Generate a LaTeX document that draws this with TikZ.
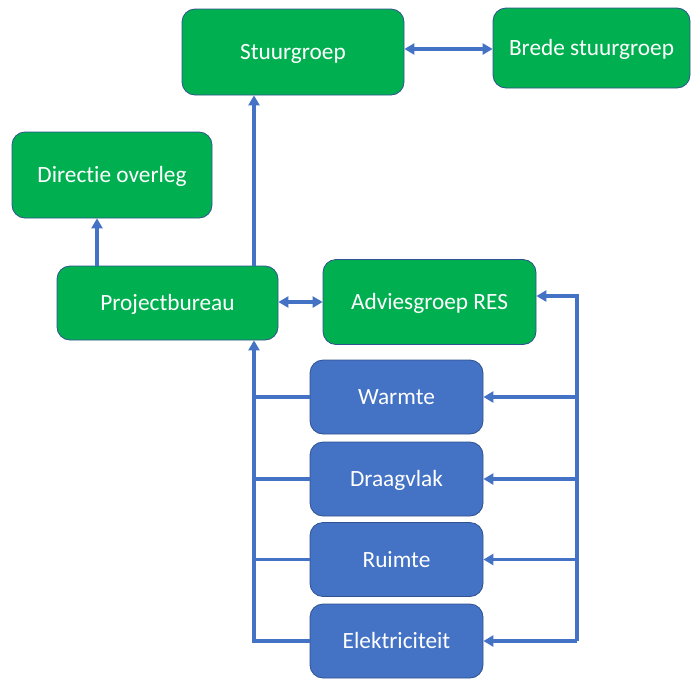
\documentclass[tikz,border=0pt]{standalone}
\usepackage{fontspec}
\setmainfont{Carlito}[Ligatures=NoCommon]
\usetikzlibrary{arrows.meta}
\definecolor{boxgreen}{HTML}{00B050}
\definecolor{boxblue}{HTML}{4472C4}
\definecolor{edgeblue}{HTML}{2F528F}
\definecolor{linkblue}{HTML}{4472C4}
\begin{document}
\begin{tikzpicture}[x=1pt,y=-1pt,
  base/.style={rectangle,rounded corners=13pt,draw=edgeblue,line width=0.8pt,text=white,
    font=\fontsize{23.3}{28}\selectfont,inner sep=0pt,text height=18pt,text depth=3pt},
  greenbox/.style={base,fill=boxgreen},
  bluebox/.style={base,fill=boxblue,minimum width=173pt,minimum height=74pt},
  link/.style={draw=linkblue,line width=3.3pt},
  tip/.style={-{Triangle[length=10pt,width=11pt]}},
  twotip/.style={{Triangle[length=10pt,width=11pt]}-{Triangle[length=10pt,width=11pt]}}]
\useasboundingbox (0,0) rectangle (691,678);
\node[greenbox,minimum width=222pt,minimum height=86pt] (stuur) at (293,52) {Stuurgroep};
\node[greenbox,minimum width=197pt,minimum height=80pt] (brede) at (591.5,48) {Brede stuurgroep};
\node[greenbox,minimum width=200pt,minimum height=86pt] (dir) at (112,175) {Directie overleg};
\node[greenbox,minimum width=221pt,minimum height=74pt] (pb) at (167.5,303) {Projectbureau};
\node[greenbox,minimum width=213pt,minimum height=85pt] (adv) at (429.5,302) {Adviesgroep RES};
\node[bluebox] (warm) at (396.5,397) {Warmte};
\node[bluebox] (draag) at (396.5,479) {Draagvlak};
\node[bluebox] (ruim) at (396.5,559.5) {Ruimte};
\node[bluebox] (elek) at (396.5,641) {Elektriciteit};
% coordinates for buses
\coordinate (lb) at (254,641);
\coordinate (rt) at (577,296);
\coordinate (rb) at (577,641);
% top connections
\draw[link,twotip] (stuur.east |- 0,49) -- (brede.west |- 0,49);
\draw[link,tip] (pb.north -| 254,0) -- (stuur.south -| 254,0);
\draw[link,tip] (pb.north -| 97,0) -- (dir.south -| 97,0);
\draw[link,twotip] (pb.east |- 0,302) -- (adv.west |- 0,302);
% left bus
\draw[link,tip,line join=miter] (elek.west) -- (lb) -- (pb.south -| lb);
\draw[link] (warm.west) -- (warm.west -| lb);
\draw[link] (draag.west) -- (draag.west -| lb);
\draw[link] (ruim.west) -- (ruim.west -| lb);
% right bus
\draw[link,tip] (rb) -- (elek.east);
\draw[link,tip] (rb) -- (rt) -- (adv.east |- rt);
\draw[link,tip] (warm.east -| rt) -- (warm.east);
\draw[link,tip] (draag.east -| rt) -- (draag.east);
\draw[link,tip] (ruim.east -| rt) -- (ruim.east);
\end{tikzpicture}
\end{document}
